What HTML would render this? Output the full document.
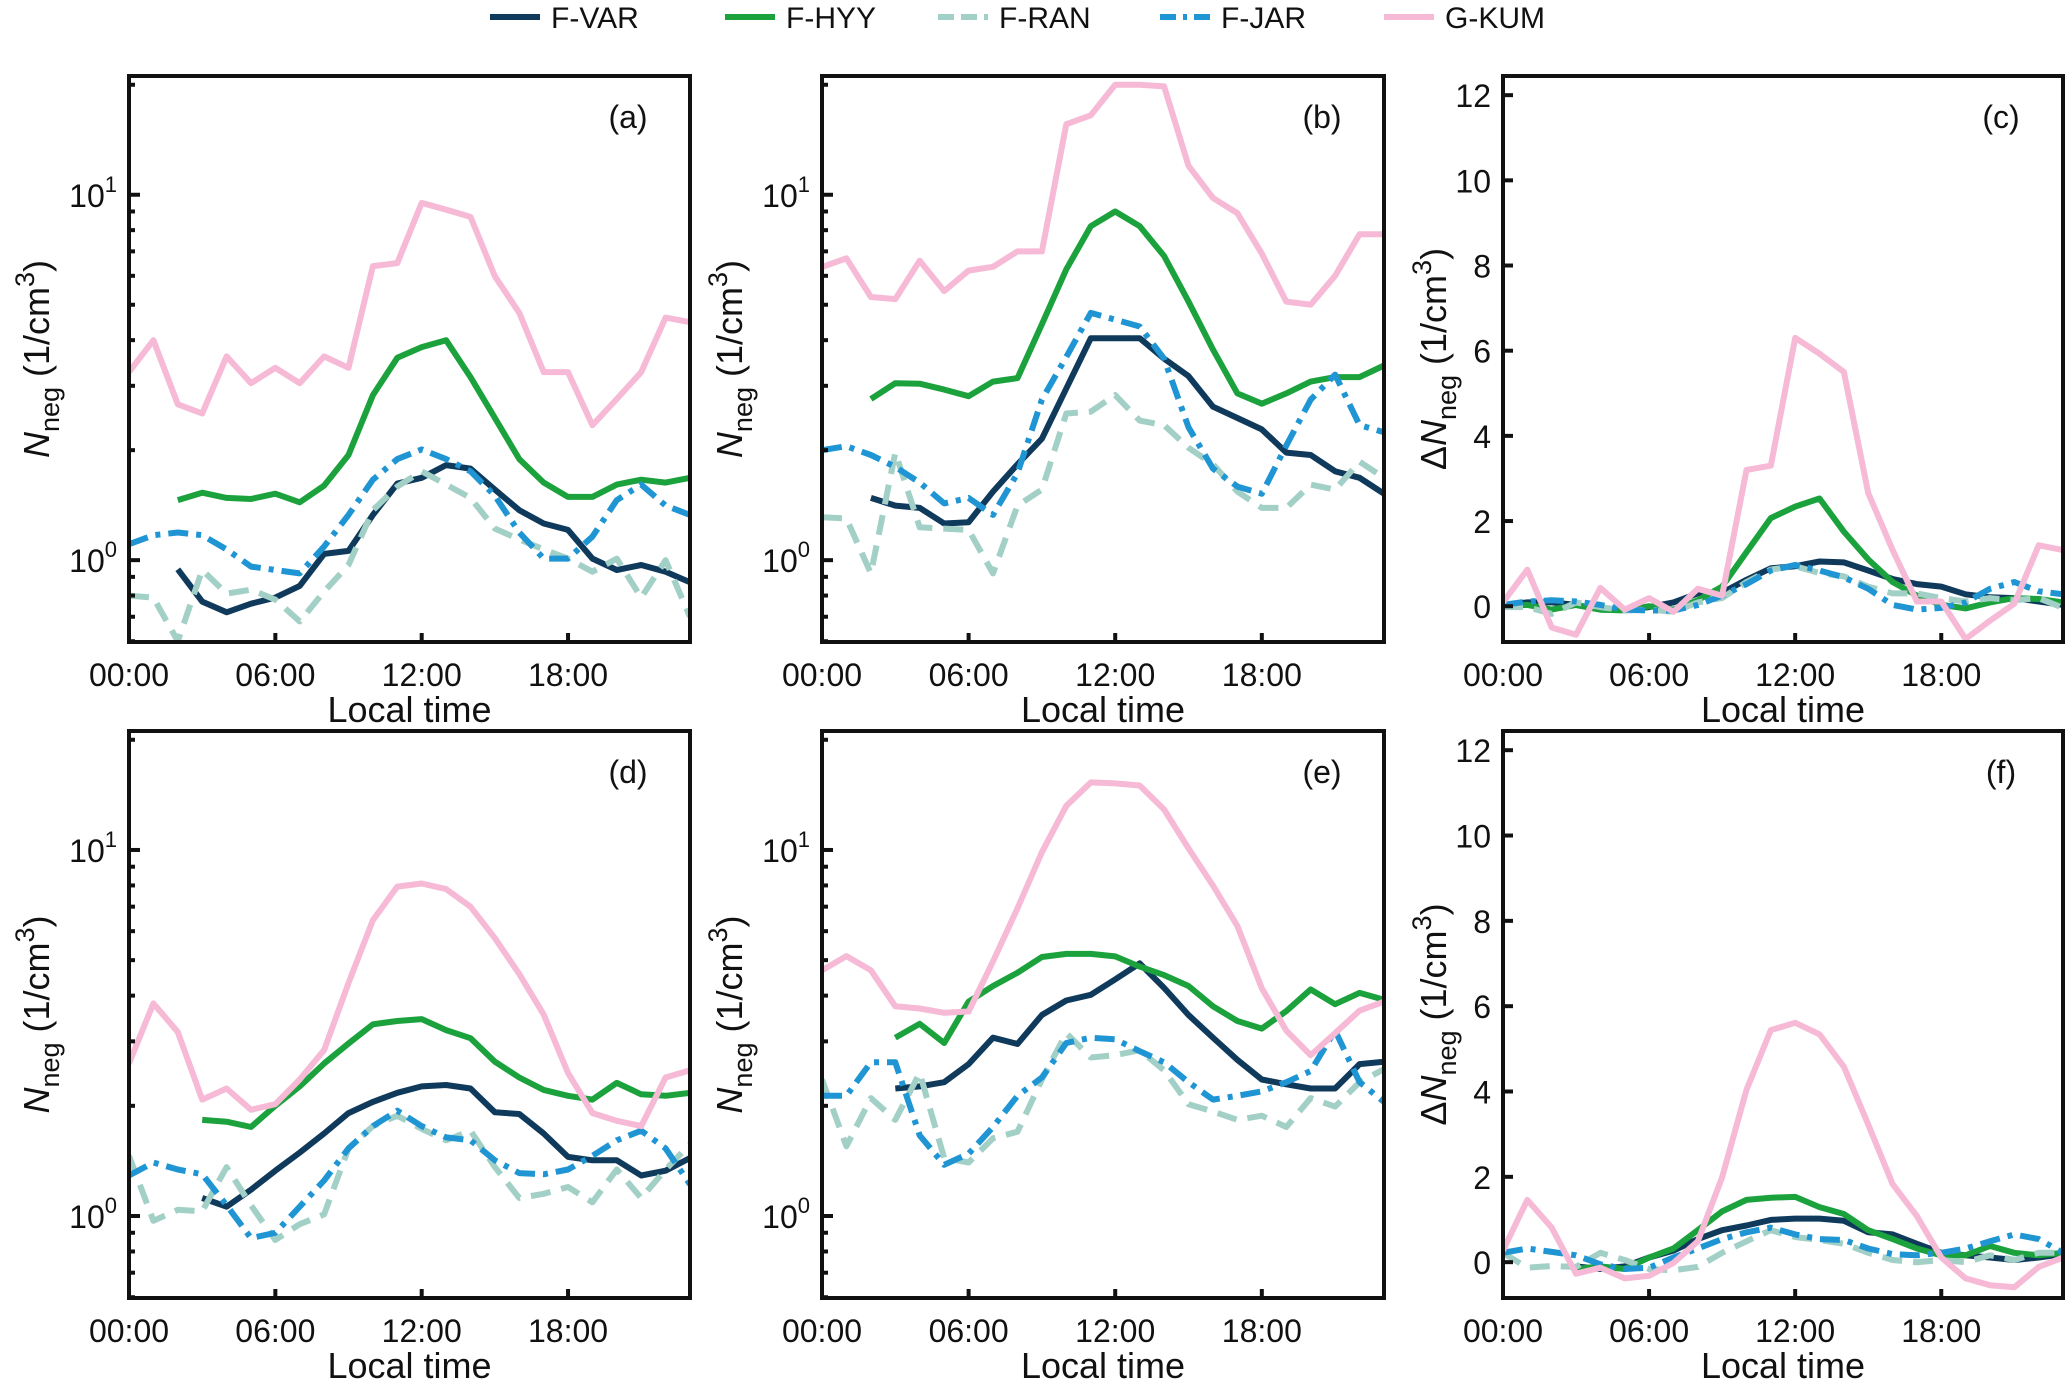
<!DOCTYPE html>
<html><head><meta charset="utf-8"><style>
html,body{margin:0;padding:0;background:#fff;}
svg{display:block;font-family:"Liberation Sans",Arial,sans-serif;}
</style></head><body>
<svg id="fig" width="2067" height="1381" viewBox="0 0 2067 1381" xmlns="http://www.w3.org/2000/svg"></svg>
<script>
const hours = [0,1,2,3,4,5,6,7,8,9,10,11,12,13,14,15,16,17,18,19,20,21,22,23];
const xTickHours = [0,6,12,18];
const xTickLabels = ["00:00","06:00","12:00","18:00"];
const linTicks = [0,2,4,6,8,10,12];
const seriesNames = ["F-VAR","F-HYY","F-RAN","F-JAR","G-KUM"];
const panelLabels = ["(a)","(b)","(c)","(d)","(e)","(f)"];

// Panel (a)
const aVAR = [null,null,0.944,0.77,0.72,0.76,0.79,0.85,1.04,1.06,1.33,1.62,1.68,1.82,1.78,1.56,1.37,1.26,1.21,1.01,0.94,0.97,0.93,0.87];
const aHYY = [null,null,1.46,1.53,1.48,1.47,1.52,1.44,1.6,1.94,2.83,3.58,3.83,4.0,3.17,2.45,1.89,1.63,1.49,1.49,1.61,1.66,1.63,1.68];
const aRAN = [0.80,0.79,0.60,0.94,0.81,0.83,0.78,0.68,0.82,0.97,1.37,1.59,1.75,1.61,1.48,1.22,1.14,1.07,1.01,0.93,1.01,0.79,1.0,0.70];
const aJAR = [1.106,1.17,1.19,1.17,1.07,0.96,0.94,0.92,1.09,1.33,1.66,1.89,2.01,1.89,1.75,1.5,1.19,1.01,1.01,1.16,1.46,1.61,1.41,1.33];
const aKUM = [3.27,4.0,2.67,2.52,3.61,3.05,3.36,3.05,3.61,3.36,6.38,6.5,9.5,9.1,8.7,5.98,4.75,3.27,3.27,2.34,2.76,3.27,4.61,4.48];
// Panel (b)
const bVAR = [null,null,1.48,1.41,1.39,1.26,1.27,1.54,1.83,2.15,2.95,4.05,4.05,4.05,3.56,3.19,2.63,2.45,2.28,1.97,1.94,1.75,1.68,1.52];
const bHYY = [null,null,2.76,3.05,3.04,2.93,2.81,3.08,3.15,4.42,6.25,8.2,9.0,8.2,6.8,5.1,3.77,2.86,2.68,2.86,3.08,3.17,3.17,3.41];
const bRAN = [1.31,1.30,0.92,1.97,1.23,1.22,1.21,0.92,1.41,1.56,2.52,2.55,2.83,2.41,2.34,2.03,1.83,1.54,1.39,1.39,1.61,1.56,1.86,1.68];
const bJAR = [2.0,2.05,1.94,1.8,1.63,1.43,1.48,1.33,1.73,2.75,3.6,4.75,4.55,4.36,3.56,2.31,1.78,1.59,1.52,2.06,2.75,3.22,2.34,2.24];
const bKUM = [6.34,6.7,5.25,5.18,6.6,5.45,6.2,6.35,7.0,7.0,15.6,16.5,20,20,19.8,12.0,9.8,8.9,6.9,5.1,5.0,6.0,7.8,7.8];
// Panel (c)
const cVAR = [0.03,0.09,0.09,0.03,-0.08,-0.08,-0.02,0.09,0.30,0.32,0.62,0.89,0.94,1.05,1.03,0.84,0.64,0.52,0.46,0.28,0.21,0.19,0.11,0.03];
const cHYY = [0,0.03,-0.08,0.03,-0.08,-0.1,0,-0.08,0.14,0.46,1.27,2.07,2.34,2.53,1.75,1.1,0.57,0.25,0.03,-0.05,0.09,0.19,0.17,0.09];
const cRAN = [-0.02,-0.02,-0.18,0.09,-0.02,-0.1,-0.08,-0.13,0.09,0.19,0.57,0.86,0.94,0.78,0.7,0.46,0.3,0.3,0.19,0.11,0.19,0.14,0.19,-0.04];
const cJAR = [0.03,0.11,0.14,0.11,0.03,-0.08,-0.1,-0.1,0.03,0.25,0.52,0.84,0.97,0.84,0.68,0.41,0.03,-0.08,-0.04,0.09,0.41,0.57,0.35,0.28];
const cKUM = [0.09,0.86,-0.5,-0.67,0.43,-0.08,0.19,-0.13,0.41,0.25,3.2,3.3,6.3,5.93,5.5,2.66,1.32,0.11,0.11,-0.77,-0.34,0.06,1.43,1.32];
// Panel (d)
const dVAR = [null,null,null,1.12,1.06,1.18,1.33,1.49,1.68,1.91,2.05,2.17,2.26,2.28,2.23,1.92,1.9,1.68,1.45,1.42,1.42,1.29,1.33,1.44];
const dHYY = [null,null,null,1.83,1.81,1.75,2.0,2.26,2.61,2.96,3.34,3.41,3.45,3.22,3.06,2.64,2.39,2.21,2.13,2.08,2.31,2.15,2.13,2.17];
const dRAN = [1.46,0.97,1.04,1.03,1.36,1.07,0.86,0.95,1.01,1.53,1.76,1.88,1.73,1.61,1.71,1.36,1.12,1.15,1.2,1.09,1.34,1.12,1.34,1.57];
const dJAR = [1.29,1.40,1.34,1.30,1.07,0.87,0.9,1.06,1.25,1.53,1.76,1.94,1.76,1.64,1.61,1.42,1.31,1.30,1.34,1.46,1.61,1.71,1.53,1.22];
const dKUM = [2.61,3.81,3.18,2.08,2.23,1.95,2.02,2.36,2.84,4.33,6.43,7.94,8.1,7.82,7.0,5.74,4.58,3.55,2.46,1.91,1.82,1.76,2.39,2.5];
// Panel (e)
const eVAR = [null,null,null,2.23,2.26,2.32,2.6,3.07,2.95,3.54,3.88,4.02,4.43,4.9,4.2,3.54,3.07,2.67,2.36,2.29,2.23,2.23,2.6,2.64];
const eHYY = [null,null,null,3.07,3.35,2.97,3.85,4.25,4.62,5.1,5.2,5.2,5.12,4.8,4.55,4.25,3.74,3.41,3.25,3.63,4.16,3.79,4.07,3.9];
const eRAN = [2.36,1.55,2.1,1.83,2.46,1.44,1.4,1.63,1.7,2.36,3.16,2.71,2.75,2.84,2.5,2.02,1.93,1.83,1.88,1.75,2.1,1.99,2.32,2.52];
const eJAR = [2.13,2.13,2.63,2.63,1.66,1.38,1.48,1.75,2.13,2.39,2.97,3.07,3.04,2.82,2.63,2.32,2.08,2.13,2.19,2.32,2.49,3.21,2.32,2.05];
const eKUM = [4.69,5.13,4.69,3.74,3.69,3.59,3.62,4.96,6.93,9.86,13.2,15.3,15.2,15.0,12.9,10.1,7.99,6.2,4.19,3.21,2.75,3.16,3.64,3.85];
// Panel (f)
const fVAR = [null,null,null,-0.1,-0.16,-0.1,0.11,0.27,0.54,0.75,0.86,0.99,1.02,1.02,0.97,0.7,0.65,0.43,0.22,0.16,0.11,0.05,0.11,0.19];
const fHYY = [null,null,null,-0.16,-0.1,-0.16,0.11,0.32,0.75,1.19,1.46,1.51,1.53,1.29,1.13,0.75,0.54,0.32,0.16,0.16,0.38,0.22,0.16,0.22];
const fRAN = [0.22,-0.13,-0.09,-0.11,0.22,0.05,-0.16,-0.19,-0.11,0.22,0.49,0.75,0.59,0.52,0.43,0.22,0.05,0,0.05,0,0.16,0.05,0.22,0.22];
const fJAR = [0.22,0.32,0.24,0.16,-0.05,-0.16,-0.13,0.11,0.32,0.54,0.7,0.81,0.65,0.54,0.52,0.32,0.19,0.16,0.22,0.32,0.49,0.65,0.54,0.22];
const fKUM = [0.27,1.46,0.81,-0.27,-0.13,-0.38,-0.32,-0.02,0.49,1.99,4.04,5.44,5.61,5.34,4.58,3.23,1.83,1.08,0.11,-0.38,-0.54,-0.59,-0.11,0.11];

const NS = "http://www.w3.org/2000/svg";
const svg = document.getElementById("fig");
function mk(tag, attrs, parent) {
  const e = document.createElementNS(NS, tag);
  for (const k in attrs) e.setAttribute(k, attrs[k]);
  (parent || svg).appendChild(e);
  return e;
}
const styles = [
  {c:"#0f3a5c", d:""},
  {c:"#1ba23c", d:""},
  {c:"#a3d0c6", d:"20 11"},
  {c:"#1f95d3", d:"20 8 5 8"},
  {c:"#f6b9d6", d:""}
];
const cols = [[129,690],[822,1384],[1503,2063]];
const rows = [[76,642],[731,1298]];
const panelData = [
  [aVAR,aHYY,aRAN,aJAR,aKUM],[bVAR,bHYY,bRAN,bJAR,bKUM],[cVAR,cHYY,cRAN,cJAR,cKUM],
  [dVAR,dHYY,dRAN,dJAR,dKUM],[eVAR,eHYY,eRAN,eJAR,eKUM],[fVAR,fHYY,fRAN,fJAR,fKUM]
];
const LOGLO = -0.224, LOGHI = 1.325, LINLO = -0.84, LINHI = 12.45;

// Legend
const legX = [490,725,938,1160,1384];
seriesNames.forEach((n,i)=>{
  const g = mk("g",{});
  
  
  mk("line",{x1:legX[i],x2:legX[i]+50,y1:17,y2:17,stroke:styles[i].c,"stroke-width":6,"stroke-dasharray":styles[i].d?"16 7 "+(i===3?"4 7":""):""},g);
  const t = mk("text",{x:legX[i]+61,y:28,"font-size":30,fill:"#111"},g);
  t.textContent = n;
});

for (let p=0;p<6;p++){
  const [x0,x1] = cols[p%3], [y0,y1] = rows[Math.floor(p/3)];
  const isLog = (p%3)!==2;
  const g = mk("g",{});
  
  
  const xs = h => x0 + (h/23)*(x1-x0);
  const ys = isLog ? v => y1 - (Math.log10(v)-LOGLO)/(LOGHI-LOGLO)*(y1-y0)
                   : v => y1 - (v-LINLO)/(LINHI-LINLO)*(y1-y0);
  const cp = mk("clipPath",{id:"cp"+p},g);
  mk("rect",{x:x0,y:y0,width:x1-x0,height:y1-y0},cp);
  panelData[p].forEach((arr,si)=>{
    let d="", pen=false;
    hours.forEach((h,i)=>{
      const v = arr[i];
      if (v===null || (isLog && v<=0)) { pen=false; return; }
      d += (pen?"L":"M") + xs(h).toFixed(1) + " " + ys(v).toFixed(1) + " ";
      pen = true;
    });
    const path = mk("path",{d:d,fill:"none",stroke:styles[si].c,"stroke-width":6,"stroke-linejoin":"round","stroke-dasharray":styles[si].d,"clip-path":"url(#cp"+p+")"},g);
    
    
  });
  const fr = mk("rect",{x:x0,y:y0,width:x1-x0,height:y1-y0,fill:"none",stroke:"#111","stroke-width":4},g);
  
  
  xTickHours.forEach((h,i)=>{
    mk("line",{x1:xs(h),x2:xs(h),y1:y1,y2:y1-9,stroke:"#111","stroke-width":4},g);
    const t = mk("text",{x:xs(h),y:y1+44,"font-size":32,"text-anchor":"middle",fill:"#111"},g);
    
    
    t.textContent = xTickLabels[i];
  });
  const xl = mk("text",{x:(x0+x1)/2,y:y1+80,"font-size":36,"text-anchor":"middle",fill:"#111"},g);
  
  
  xl.textContent = "Local time";
  if (isLog){
    for (let dec=-1; dec<=1; dec++){
      for (let m=1;m<=9;m++){
        const v = m*Math.pow(10,dec);
        const lv = Math.log10(v);
        if (lv<LOGLO||lv>LOGHI) continue;
        mk("line",{x1:x0,x2:x0+(m===1?11:6),y1:ys(v),y2:ys(v),stroke:"#111","stroke-width":4},g);
        if (m===1){
          const t = mk("text",{x:x0-12,y:ys(v)+12,"font-size":32,"text-anchor":"end",fill:"#111"},g);
          
          
          t.innerHTML = '10<tspan dy="-15" font-size="22">'+dec+'</tspan>';
        }
      }
    }
  } else {
    linTicks.forEach(v=>{
      mk("line",{x1:x0,x2:x0+10,y1:ys(v),y2:ys(v),stroke:"#111","stroke-width":4},g);
      const t = mk("text",{x:x0-12,y:ys(v)+12,"font-size":32,"text-anchor":"end",fill:"#111"},g);
      
      
      t.textContent = v;
    });
  }
  const cy = (y0+y1)/2;
  const lx = isLog ? x0-80 : x0-57;
  const yl = mk("text",{x:lx,y:cy,"font-size":36,"text-anchor":"middle",fill:"#111",transform:"rotate(-90 "+lx+" "+cy+")"},g);
  
  
  yl.innerHTML = (isLog?'':'Δ')+'<tspan font-style="italic">N</tspan><tspan dy="10" font-size="27">neg</tspan><tspan dy="-10"> (1/cm</tspan><tspan dy="-15" font-size="27">3</tspan><tspan dy="15">)</tspan>';
  const pl = mk("text",{x:x1-62,y:y0+52,"font-size":32,"text-anchor":"middle",fill:"#111"},g);
  
  
  pl.textContent = panelLabels[p];
}
</script>
</body></html>
